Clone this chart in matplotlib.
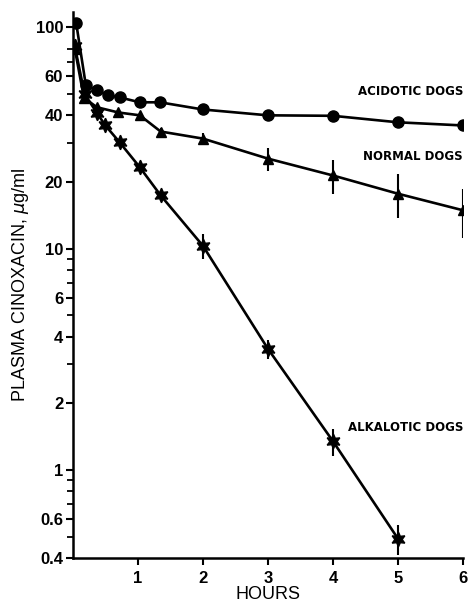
import matplotlib.pyplot as plt
from matplotlib.ticker import FixedLocator, NullFormatter

# acidotic dogs (circles)
t_acid = [0.05, 0.2, 0.37, 0.54, 0.72, 1.03, 1.34, 2, 3, 4, 5, 6]
c_acid = [105, 54.6, 51.9, 49.3, 48.2, 45.8, 45.8, 42.5, 40, 39.8, 37.2, 36]

# normal dogs (triangles)
t_norm = [0.03, 0.17, 0.37, 0.7, 1.03, 1.35, 2, 3, 4, 5, 6]
c_norm = [80, 48, 43.5, 41.2, 40, 33.8, 31.4, 25.5, 21.4, 17.7, 14.9]
e_norm = [0, 0, 0, 0, 0, 1.2, 2.0, 3.0, 3.7, 4.0, 3.7]

# alkalotic dogs (stars)
t_alk = [0.03, 0.18, 0.37, 0.5, 0.72, 1.03, 1.35, 2, 3, 4, 5]
c_alk = [82, 50, 41, 36, 30.2, 23.3, 17.4, 10.3, 3.53, 1.35, 0.49]
e_alk = [0, 0, 0, 0, 0, 0, 0, 1.3, 0.35, 0.19, 0.075]

major_y = [0.4, 0.6, 1, 2, 4, 6, 10, 20, 40, 60, 100]
minor_y = [0.5, 0.7, 0.8, 0.9, 3, 5, 7, 8, 9, 30, 50, 70, 80]
x_ticks = [1, 2, 3, 4, 5, 6]

plt.rcParams['font.family'] = ['Liberation Sans', 'DejaVu Sans']

fig = plt.figure(figsize=(4.7, 6.06), dpi=100)
ax = fig.add_axes([0.155, 0.079, 0.83, 0.901])

lw = 1.9
ax.plot(t_acid, c_acid, color='black', lw=lw, marker='o', ms=8)
ax.errorbar(t_norm, c_norm, yerr=e_norm, color='black', lw=lw, marker='^', ms=7.5,
            elinewidth=1.5, capsize=0)
ax.errorbar(t_alk, c_alk, yerr=e_alk, color='black', lw=lw, marker=(6, 1, 0), ms=10.5,
            elinewidth=1.5, capsize=0)

ax.set_yscale('log')
ax.set_xlim(0, 6)
ax.set_ylim(0.4, 117)
ax.yaxis.set_major_locator(FixedLocator(major_y))
ax.yaxis.set_minor_locator(FixedLocator(minor_y))
ax.yaxis.set_minor_formatter(NullFormatter())
ax.set_yticklabels(['0.4', '0.6', '1', '2', '4', '6', '10', '20', '40', '60', '100'])
ax.set_xticks(x_ticks)
ax.set_xticklabels([str(v) for v in x_ticks])

for s in ['top', 'right']:
    ax.spines[s].set_visible(False)
for s in ['left', 'bottom']:
    ax.spines[s].set_linewidth(1.8)

ax.tick_params(axis='both', which='major', length=5, width=1.5, labelsize=12, pad=2)
ax.tick_params(axis='x', which='major', pad=4)
ax.tick_params(axis='y', which='minor', length=4, width=1.3)
for lab in ax.get_xticklabels() + ax.get_yticklabels():
    lab.set_fontweight('bold')

ax.set_xlabel('HOURS', fontsize=13, labelpad=0)
ax.set_ylabel(r'PLASMA CINOXACIN, $\mu$g/ml', fontsize=13, labelpad=3)

lab_kw = dict(fontsize=8.5, fontweight='bold', family='DejaVu Sans',
              ha='right', va='center')
ax.text(6.0, 51, 'ACIDOTIC DOGS', **lab_kw)
ax.text(6.0, 26, 'NORMAL DOGS', **lab_kw)
ax.text(6.0, 1.55, 'ALKALOTIC DOGS', **lab_kw)

fig.savefig('out.png', dpi=100)
